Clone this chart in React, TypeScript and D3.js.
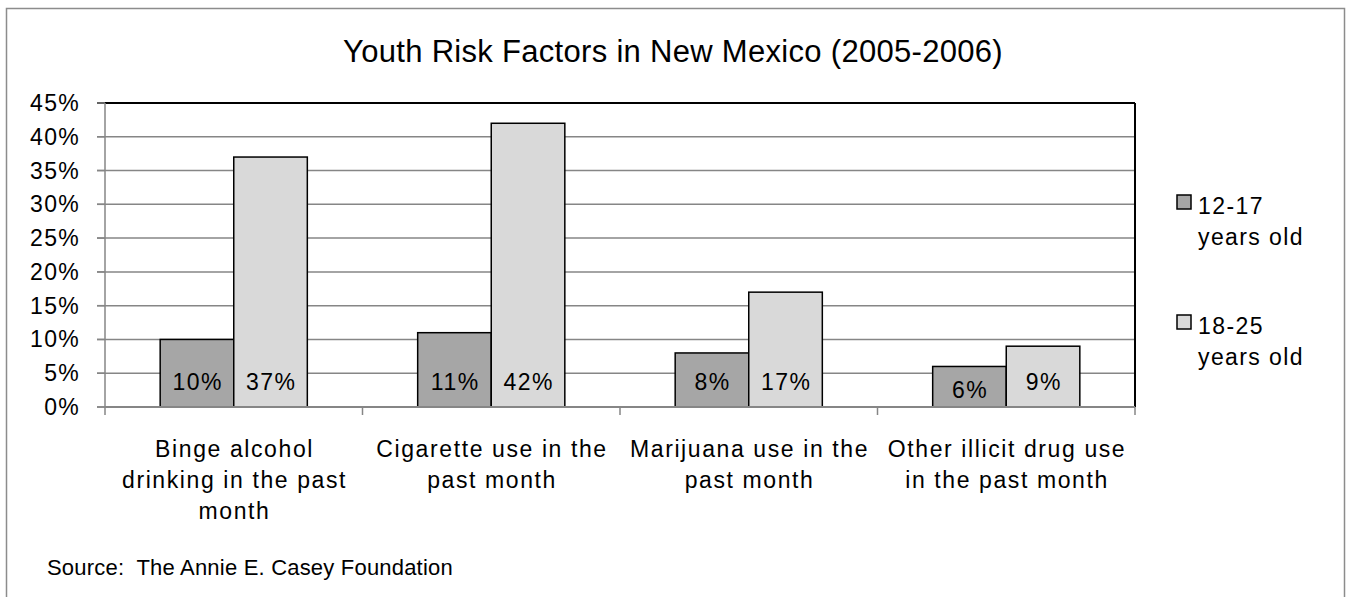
import React from "react";
import * as d3 from "d3";

const title = "Youth Risk Factors in New Mexico (2005-2006)";
const source = "Source:  The Annie E. Casey Foundation";
const categories = [
  "Binge alcohol\ndrinking in the past\nmonth",
  "Cigarette use in the\npast month",
  "Marijuana use in the\npast month",
  "Other illicit drug use\nin the past month",
];
const seriesNames = ["12-17\nyears old", "18-25\nyears old"];
const youth1217 = [0.10, 0.11, 0.08, 0.06];
const youth1825 = [0.37, 0.42, 0.17, 0.09];
const seriesColors = ["#a6a6a6", "#d9d9d9"];
const yTicks = [0, 0.05, 0.1, 0.15, 0.2, 0.25, 0.3, 0.35, 0.4, 0.45];

const W = 1347;
const H = 597;
const FONT = "'Liberation Sans', Arial, sans-serif";

export default function App() {
  const plot = { left: 105, right: 1135, top: 103, bottom: 407 };
  const y = d3.scaleLinear().domain([0, 0.45]).range([plot.bottom, plot.top]);
  const x = d3
    .scaleBand<number>()
    .domain(categories.map((_, i) => i))
    .range([plot.left, plot.right])
    .padding(0);
  const bw = x.bandwidth();
  const barW = bw / 3.5;
  const xs = d3
    .scaleBand<number>()
    .domain([0, 1])
    .range([(bw - 2 * barW) / 2, (bw + 2 * barW) / 2]);
  const series = [youth1217, youth1825];
  const fmt = d3.format(".0%");
  const grid = "#868686";

  return (
    <svg
      width={W}
      height={H}
      style={{ position: "absolute", left: 0, top: 0, background: "#fff" }}
      fontFamily={FONT}
    >
      <rect x={6.5} y={8.5} width={1338} height={620} fill="#fff" stroke="#8c8c8c" strokeWidth={1.5} />
      <text x={673} y={62} textAnchor="middle" fontSize={31} letterSpacing={0.3} fill="#000">
        {title}
      </text>

      {/* gridlines */}
      {yTicks.map((t) => (
        <line
          key={"g" + t}
          x1={plot.left - 8}
          x2={plot.right}
          y1={y(t)}
          y2={y(t)}
          stroke={t === 0.45 ? "#000" : grid}
          strokeWidth={t === 0.45 ? 2 : 1.5}
        />
      ))}
      {yTicks.map((t) => (
        <line key={"tk" + t} x1={plot.left - 8} x2={plot.left} y1={y(t)} y2={y(t)} stroke={grid} strokeWidth={1.5} />
      ))}
      {/* left axis */}
      <line x1={plot.left} x2={plot.left} y1={plot.top} y2={plot.bottom + 8} stroke={grid} strokeWidth={1.5} />
      {/* right border */}
      <line x1={plot.right} x2={plot.right} y1={plot.top} y2={plot.bottom} stroke="#000" strokeWidth={2} />
      {/* category tick marks */}
      {categories.map((_, i) => (
        <line
          key={"ct" + i}
          x1={(x(i) as number) + bw}
          x2={(x(i) as number) + bw}
          y1={plot.bottom}
          y2={plot.bottom + 8}
          stroke={grid}
          strokeWidth={1.5}
        />
      ))}
      {/* y labels */}
      {yTicks.map((t) => (
        <text key={"yl" + t} x={80} y={y(t)} dy="0.35em" textAnchor="end" fontSize={23} letterSpacing={1.3} fill="#000">
          {fmt(t)}
        </text>
      ))}

      {/* bars */}
      {series.map((vals, s) =>
        vals.map((v, i) => {
          const bx = (x(i) as number) + (xs(s) as number);
          const top = y(v);
          return (
            <rect
              key={"b" + s + i}
              x={bx}
              y={top}
              width={xs.bandwidth()}
              height={plot.bottom - top}
              fill={seriesColors[s]}
              stroke="#000"
              strokeWidth={1.5}
            />
          );
        })
      )}
      {/* bottom axis line */}
      <line x1={plot.left} x2={plot.right} y1={plot.bottom} y2={plot.bottom} stroke={grid} strokeWidth={2} />

      {/* value labels */}
      {series.map((vals, s) =>
        vals.map((v, i) => {
          const cx = (x(i) as number) + (xs(s) as number) + xs.bandwidth() / 2;
          const cy = Math.max(plot.bottom - 25, y(v) + 23);
          return (
            <text key={"v" + s + i} x={cx} y={cy} dx={0.75} dy="0.35em" textAnchor="middle" fontSize={23} letterSpacing={1.5} fill="#000">
              {fmt(v)}
            </text>
          );
        })
      )}

      {/* category labels */}
      {categories.map((c, i) => (
        <text key={"c" + i} textAnchor="middle" fontSize={23} letterSpacing={1.6} fill="#000">
          {c.split("\n").map((ln, k) => (
            <tspan key={k} x={(x(i) as number) + bw / 2 + 0.8} y={457 + k * 31}>
              {ln}
            </tspan>
          ))}
        </text>
      ))}

      {/* legend */}
      {seriesNames.map((n, s) => (
        <g key={"lg" + s} transform={`translate(1177, ${195 + s * 120})`}>
          <rect x={0} y={0} width={14} height={14} fill={seriesColors[s]} stroke="#000" strokeWidth={1.5} />
          <text fontSize={23} letterSpacing={1.4} fill="#000">
            {n.split("\n").map((ln, k) => (
              <tspan key={k} x={21} y={19 + k * 31}>
                {ln}
              </tspan>
            ))}
          </text>
        </g>
      ))}

      <text x={47} y={575} fontSize={22} letterSpacing={0.2} style={{ whiteSpace: "pre" }} fill="#000">
        {source}
      </text>
    </svg>
  );
}
